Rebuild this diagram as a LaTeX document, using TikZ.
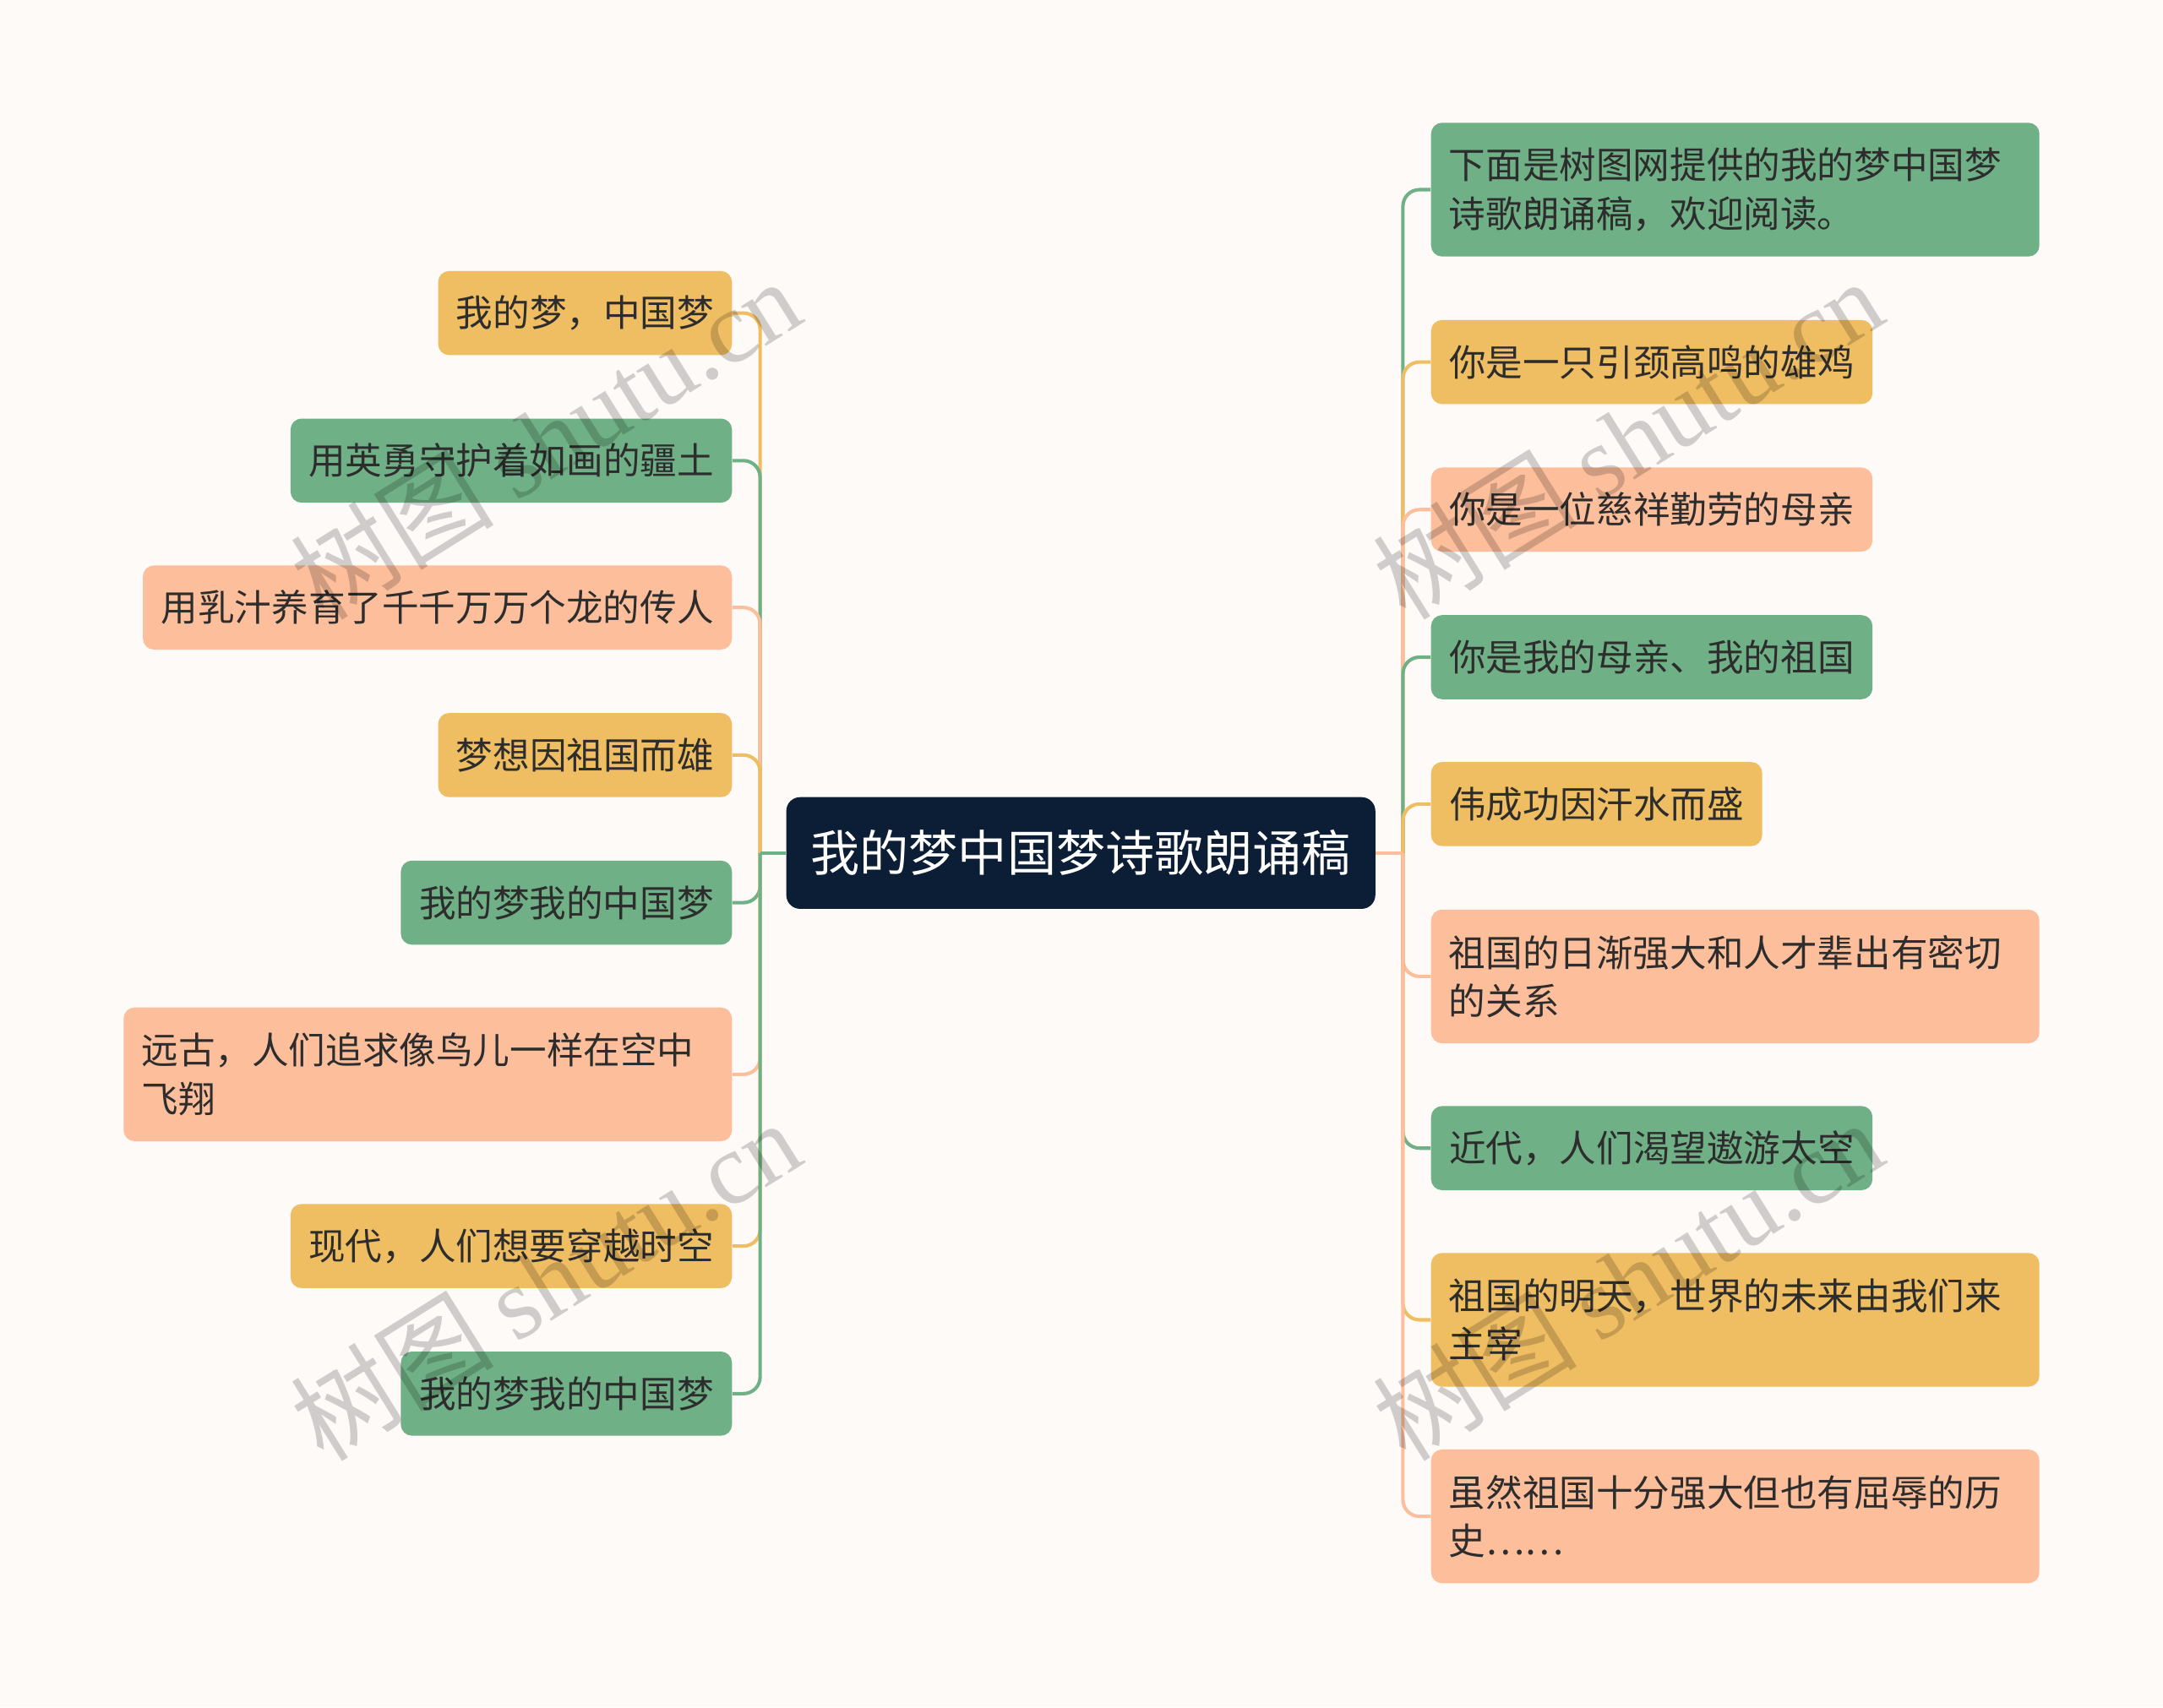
\documentclass[tikz,border=0pt]{standalone}
\usepackage{fontspec}
\setmainfont{Noto Sans CJK SC}
\newfontfamily\wmlatin{Liberation Serif}
\usetikzlibrary{backgrounds}
\definecolor{bgc}{RGB}{253,250,248}
\definecolor{cg}{RGB}{112,176,134}
\definecolor{cy}{RGB}{240,190,98}
\definecolor{cs}{RGB}{253,190,155}
\definecolor{navy}{RGB}{12,30,54}
\definecolor{txt}{RGB}{45,45,45}
\tikzset{
  box/.style={rounded corners=4pt, inner xsep=6.5pt, inner ysep=0pt,
    font=\fontsize{13.35pt}{17.5pt}\selectfont, text=txt},
  one/.style={box, minimum height=30.5pt, minimum width=#1},
  two/.style={box, minimum height=48.5pt, text width=207.5pt, align=left},
  lft/.style={anchor=east},
  rgt/.style={anchor=west},
  link/.style={line width=1.25pt, rounded corners=6pt},
  stub/.style={line width=1.25pt},
  wm/.style={rotate=32, text=black, opacity=0.18,
    font=\fontsize{37pt}{37pt}\selectfont}
}
\begin{document}
\begin{tikzpicture}[x=0.5pt,y=-0.5pt]
\useasboundingbox (0,0) rectangle (1568,1238);

\node[box, fill=navy, text=white, rounded corners=5pt, minimum width=213.5pt,
  minimum height=40.5pt, font=\fontsize{17.8pt}{20pt}\selectfont] (root) at (783.5,618.5) {我的梦中国梦诗歌朗诵稿};

\coordinate (tl) at (551,618.5);
\coordinate (tr) at (1017,618.5);

% left
\node[one=106.5pt, lft, fill=cy] (l1) at (531,227) {我的梦，中国梦};
\node[one=160pt, lft, fill=cg] (l2) at (531,334) {用英勇守护着如画的疆土};
\node[one=213.5pt, lft, fill=cs] (l3) at (531,440.5) {用乳汁养育了千千万万个龙的传人};
\node[one=106.5pt, lft, fill=cy] (l4) at (531,547.5) {梦想因祖国而雄};
\node[one=120pt, lft, fill=cg] (l5) at (531,654.5) {我的梦我的中国梦};
\node[two, lft, fill=cs] (l6) at (531,779) {远古，人们追求像鸟儿一样在空中\\飞翔};
\node[one=160pt, lft, fill=cy] (l7) at (531,903.5) {现代，人们想要穿越时空};
\node[one=120pt, lft, fill=cg] (l8) at (531,1010.5) {我的梦我的中国梦};

% right
\node[two, rgt, fill=cg] (r1) at (1037,137.5) {下面是树图网提供的我的梦中国梦\\诗歌朗诵稿，欢迎阅读。};
\node[one=160pt, rgt, fill=cy] (r2) at (1037,262.5) {你是一只引颈高鸣的雄鸡};
\node[one=160pt, rgt, fill=cs] (r3) at (1037,369.5) {你是一位慈祥勤劳的母亲};
\node[one=160pt, rgt, fill=cg] (r4) at (1037,476.5) {你是我的母亲、我的祖国};
\node[one=120pt, rgt, fill=cy] (r5) at (1037,583) {伟成功因汗水而盛};
\node[two, rgt, fill=cs] (r6) at (1037,708) {祖国的日渐强大和人才辈出有密切\\的关系};
\node[one=160pt, rgt, fill=cg] (r7) at (1037,832.5) {近代，人们渴望遨游太空};
\node[two, rgt, fill=cy] (r8) at (1037,957) {祖国的明天，世界的未来由我们来\\主宰};
\node[two, rgt, fill=cs] (r9) at (1037,1099.5) {虽然祖国十分强大但也有屈辱的历\\史……};

\begin{scope}[on background layer]
\fill[bgc] (0,0) rectangle (1568,1238);
\foreach \n/\c in {l1/cy,l2/cg,l3/cs,l4/cy,l5/cg,l6/cs,l7/cy,l8/cg}{
  \draw[stub, \c] (root.west) -- (tl);
  \draw[link, \c] (tl) |- (\n.east);
}
\foreach \n/\c in {r1/cg,r2/cy,r3/cs,r4/cg,r5/cy,r6/cs,r7/cg,r8/cy,r9/cs}{
  \draw[stub, \c] (root.east) -- (tr);
  \draw[link, \c] (tr) |- (\n.west);
}
\end{scope}

% watermarks
\node[wm] (w1) at (395,318) {树图 {\wmlatin shutu.cn}};
\node[wm] (w2) at (395,928) {树图 {\wmlatin shutu.cn}};
\node[wm] (w3) at (1180,318) {树图 {\wmlatin shutu.cn}};
\node[wm] (w4) at (1180,928) {树图 {\wmlatin shutu.cn}};
\end{tikzpicture}
\end{document}
